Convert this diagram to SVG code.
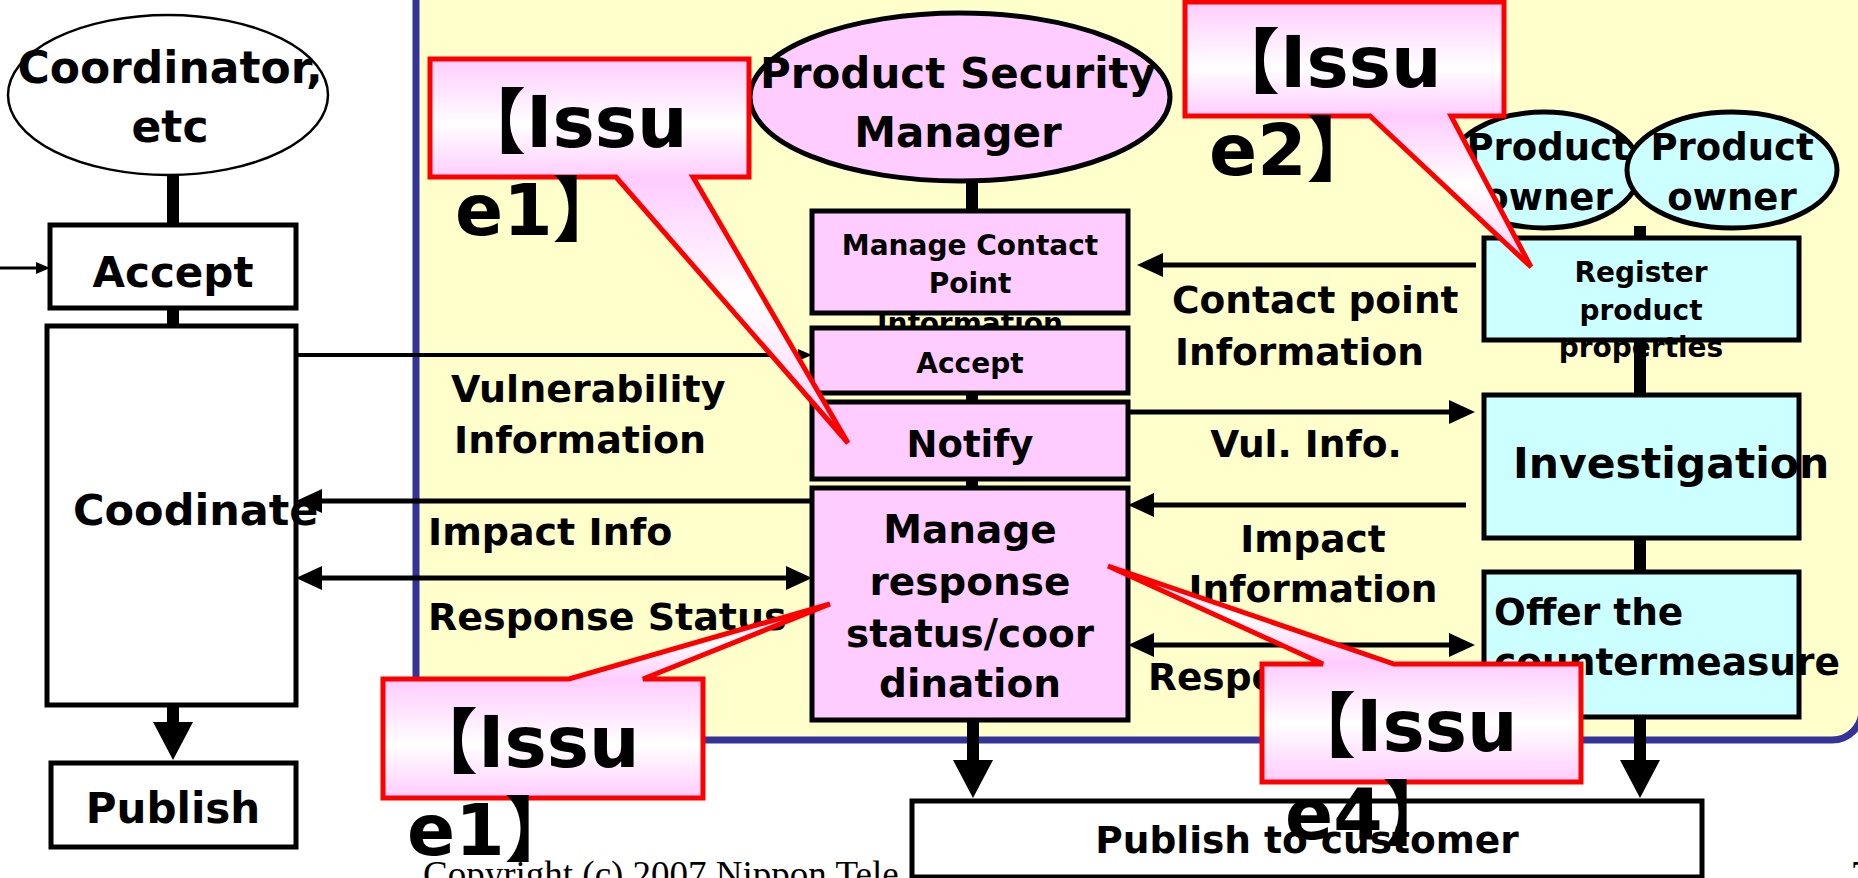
<svg xmlns="http://www.w3.org/2000/svg" width="1858" height="878" viewBox="0 0 1858 878">
<defs>
<style>
.t{font-family:"DejaVu Sans","Noto Sans CJK JP",sans-serif;font-weight:bold;fill:#000}
.c{text-anchor:middle}
.box{stroke:#000;stroke-width:5}
.wh{fill:#fff}.pk{fill:#FFCCFF}.cy{fill:#CCFFFF}
.ln{stroke:#000;stroke-width:5;fill:none}
.thin{stroke:#000;stroke-width:4;fill:none}
.thick{stroke:#000;stroke-width:12;fill:none}
.callout{stroke:#FF0000;stroke-width:5;stroke-linejoin:miter}
.issue{font-size:71px}
.serif{font-family:"Liberation Serif","Times New Roman",serif;font-size:37px;fill:#000}
</style>
<marker id="ah" markerUnits="userSpaceOnUse" viewBox="0 0 26 24" markerWidth="26" markerHeight="24" refX="20" refY="12" orient="auto-start-reverse"><path d="M0,0 L26,12 L0,24 z" fill="#000"/></marker>
<marker id="ahs" markerUnits="userSpaceOnUse" viewBox="0 0 14 12" markerWidth="14" markerHeight="12" refX="8" refY="6" orient="auto"><path d="M0,0 L14,6 L0,12 z" fill="#000"/></marker>
<marker id="big" markerUnits="userSpaceOnUse" viewBox="0 0 38 40" markerWidth="38" markerHeight="40" refX="24" refY="20" orient="auto"><path d="M0,0 L38,20 L0,40 z" fill="#000"/></marker>
<linearGradient id="g1" gradientUnits="userSpaceOnUse" x1="0" y1="59" x2="0" y2="443"><stop offset="0" stop-color="#FFCCFF"/><stop offset="0.17" stop-color="#FFFFFF"/><stop offset="0.31" stop-color="#FFCCFF"/><stop offset="0.62" stop-color="#FFFFFF"/><stop offset="1" stop-color="#FFCCFF"/></linearGradient>
<linearGradient id="g2" gradientUnits="userSpaceOnUse" x1="0" y1="2" x2="0" y2="267"><stop offset="0" stop-color="#FFCCFF"/><stop offset="0.25" stop-color="#FFFFFF"/><stop offset="0.43" stop-color="#FFCCFF"/><stop offset="0.69" stop-color="#FFFFFF"/><stop offset="1" stop-color="#FFCCFF"/></linearGradient>
<linearGradient id="g3" gradientUnits="userSpaceOnUse" x1="0" y1="604" x2="0" y2="798"><stop offset="0" stop-color="#FFCCFF"/><stop offset="0.19" stop-color="#FFFFFF"/><stop offset="0.39" stop-color="#FFCCFF"/><stop offset="0.73" stop-color="#FFFFFF"/><stop offset="1" stop-color="#FFCCFF"/></linearGradient>
<linearGradient id="g4" gradientUnits="userSpaceOnUse" x1="0" y1="566" x2="0" y2="782"><stop offset="0" stop-color="#FFCCFF"/><stop offset="0.23" stop-color="#FFFFFF"/><stop offset="0.45" stop-color="#FFCCFF"/><stop offset="0.73" stop-color="#FFFFFF"/><stop offset="1" stop-color="#FFCCFF"/></linearGradient>
</defs>

<rect width="1858" height="878" fill="#fff"/>
<rect id="panel" x="416" y="-60" width="1446" height="800" rx="30" fill="#FFFFCC" stroke="#333399" stroke-width="7"/>

<g id="coordinator">
<ellipse cx="168" cy="95" rx="160" ry="80" fill="#fff" stroke="#000" stroke-width="2.5"/>
<text class="t c" x="170" y="83" font-size="44">Coordinator,</text>
<text class="t c" x="170" y="142" font-size="44">etc</text>
</g>
<g id="accept-left">
<rect class="box wh" x="50" y="225" width="246" height="83"/>
<text class="t c" x="173" y="287" font-size="42">Accept</text>
</g>
<g id="coodinate">
<rect class="box wh" x="47" y="326" width="249" height="379"/>
<text class="t" x="73" y="525" font-size="43">Coodinate</text>
</g>
<g id="publish">
<rect class="box wh" x="51" y="763" width="245" height="84"/>
<text class="t c" x="173" y="823" font-size="42">Publish</text>
</g>

<g id="psm">
<ellipse cx="960" cy="97" rx="210" ry="84" fill="#FFCCFF" stroke="#000" stroke-width="5"/>
<text class="t c" x="958" y="88" font-size="42">Product Security</text>
<text class="t c" x="958" y="147" font-size="42">Manager</text>
</g>
<g id="manage-contact">
<rect class="box pk" x="812" y="211" width="316" height="102"/>
<text class="t c" x="970" y="255" font-size="28">Manage Contact</text>
<text class="t c" x="970" y="293" font-size="28">Point</text>
<text class="t c" x="970" y="333" font-size="28">Information</text>
</g>
<g id="accept-psm">
<rect class="box pk" x="812" y="328" width="316" height="65"/>
<text class="t c" x="970" y="373" font-size="28">Accept</text>
</g>
<g id="notify">
<rect class="box pk" x="812" y="402" width="316" height="77"/>
<text class="t c" x="970" y="457" font-size="37">Notify</text>
</g>
<g id="manage-response">
<rect class="box pk" x="812" y="488" width="316" height="232"/>
<text class="t c" x="970" y="543" font-size="39">Manage</text>
<text class="t c" x="970" y="595" font-size="39">response</text>
<text class="t c" x="970" y="647" font-size="39">status/coor</text>
<text class="t c" x="970" y="697" font-size="39">dination</text>
</g>

<text id="copyright" class="serif" x="423" y="887">Copyright (c) 2007 Nippon Tele</text>
<text id="page" class="serif" x="1851" y="887">7</text>

<g id="publish-customer">
<rect class="box wh" x="912" y="801" width="790" height="76"/>
<text class="t c" x="1307" y="853" font-size="37.5">Publish to customer</text>
</g>

<g id="owner1">
<ellipse cx="1544" cy="170" rx="96" ry="58" fill="#CCFFFF" stroke="#000" stroke-width="5"/>
<text class="t c" x="1548" y="160" font-size="37">Product</text>
<text class="t c" x="1548" y="210" font-size="37">owner</text>
</g>
<g id="owner2">
<ellipse cx="1732" cy="170" rx="105" ry="58" fill="#CCFFFF" stroke="#000" stroke-width="5"/>
<text class="t c" x="1732" y="160" font-size="37">Product</text>
<text class="t c" x="1732" y="210" font-size="37">owner</text>
</g>
<g id="register">
<rect class="box cy" x="1484" y="238" width="315" height="102"/>
<text class="t c" x="1641" y="282" font-size="28">Register</text>
<text class="t c" x="1641" y="320" font-size="28">product</text>
<text class="t c" x="1641" y="357" font-size="28">properties</text>
</g>
<g id="investigation">
<rect class="box cy" x="1484" y="395" width="315" height="143"/>
<text class="t" x="1513" y="478" font-size="42.5">Investigation</text>
</g>
<g id="offer">
<rect class="box cy" x="1484" y="572" width="315" height="145"/>
<text class="t" x="1494" y="625" font-size="37.5">Offer the</text>
<text class="t" x="1494" y="675" font-size="37.5">countermeasure</text>
</g>

<g id="connectors">
<line class="thick" x1="173" y1="175" x2="173" y2="225"/>
<line class="thick" x1="173" y1="308" x2="173" y2="326"/>
<line class="thick" x1="173" y1="705" x2="173" y2="746" marker-end="url(#big)"/>
<line stroke="#000" stroke-width="3" x1="0" y1="268" x2="44" y2="268" marker-end="url(#ahs)"/>
<line class="thin" x1="296" y1="355" x2="806" y2="355" marker-end="url(#ahs)"/>
<line class="ln" x1="812" y1="501" x2="302" y2="501" marker-end="url(#ah)"/>
<line class="ln" x1="302" y1="578" x2="806" y2="578" marker-start="url(#ah)" marker-end="url(#ah)"/>
<line class="thick" x1="972" y1="180" x2="972" y2="211"/>
<line class="thick" x1="972" y1="393" x2="972" y2="402"/>
<line class="thick" x1="972" y1="479" x2="972" y2="488"/>
<line class="thick" x1="973" y1="720" x2="973" y2="784" marker-end="url(#big)"/>
<line class="ln" x1="1476" y1="265" x2="1143" y2="265" marker-end="url(#ah)"/>
<line class="ln" x1="1128" y1="412" x2="1469" y2="412" marker-end="url(#ah)"/>
<line class="ln" x1="1466" y1="505" x2="1134" y2="505" marker-end="url(#ah)"/>
<line class="ln" x1="1134" y1="645" x2="1469" y2="645" marker-start="url(#ah)" marker-end="url(#ah)"/>
<line class="thick" x1="1640" y1="226" x2="1640" y2="238"/>
<line class="thick" x1="1640" y1="340" x2="1640" y2="395"/>
<line class="thick" x1="1640" y1="538" x2="1640" y2="572"/>
<line class="thick" x1="1640" y1="717" x2="1640" y2="784" marker-end="url(#big)"/>
<text class="t" x="451" y="402" font-size="38">Vulnerability</text>
<text class="t" x="454" y="453" font-size="38">Information</text>
<text class="t" x="428" y="545" font-size="38">Impact Info</text>
<text class="t" x="428" y="630" font-size="38">Response Status</text>
<text class="t" x="1172" y="313" font-size="37.5">Contact point</text>
<text class="t" x="1175" y="365" font-size="37.5">Information</text>
<text class="t c" x="1306" y="457" font-size="37.5">Vul. Info.</text>
<text class="t c" x="1313" y="552" font-size="37.5">Impact</text>
<text class="t c" x="1313" y="602" font-size="37.5">Information</text>
<text class="t" x="1148" y="690" font-size="37.5">Response</text>
</g>

<g id="issue1-top">
<path class="callout" fill="url(#g1)" d="M430,59 L749,59 L749,177 L693,177 L848,443 L616,177 L430,177 Z"/>
<text class="t issue" x="455" y="147">【Issu</text>
<text class="t issue" x="455" y="235">e1】</text>
</g>
<g id="issue2">
<path class="callout" fill="url(#g2)" d="M1185,2 L1504,2 L1504,116 L1451,116 L1531,267 L1370,116 L1185,116 Z"/>
<text class="t issue" x="1209" y="87">【Issu</text>
<text class="t issue" x="1209" y="175">e2】</text>
</g>
<g id="issue1-bottom">
<path class="callout" fill="url(#g3)" d="M383,679 L569,679 L830,604 L643,679 L703,679 L703,798 L383,798 Z"/>
<text class="t issue" x="407" y="767">【Issu</text>
<text class="t issue" x="407" y="855">e1】</text>
</g>
<g id="issue4">
<path class="callout" fill="url(#g4)" d="M1262,664 L1323,664 L1108,566 L1394,664 L1581,664 L1581,782 L1262,782 Z"/>
<text class="t issue" x="1285" y="751">【Issu</text>
<text class="t issue" x="1285" y="839">e4】</text>
</g>
</svg>
